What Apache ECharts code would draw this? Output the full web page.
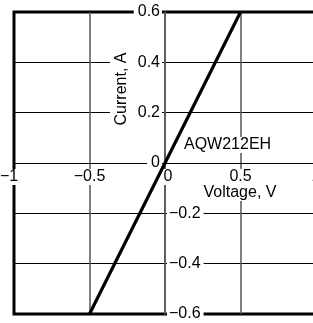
<!DOCTYPE html>
<html>
<head>
<meta charset="utf-8">
<script src="https://cdn.jsdelivr.net/npm/echarts@6/dist/echarts.min.js"></script>
<style>
html,body{margin:0;padding:0;background:#fff;}
#c{width:313px;height:323px;}
</style>
</head>
<body>
<div id="c"></div>
<script>
const xTicks = [-1, -0.5, 0, 0.5, 1];
const yTicks = [-0.6, -0.4, -0.2, 0, 0.2, 0.4, 0.6];
const voltage = [-0.5, 0.5];
const current = [-0.6, 0.6];
const xName = 'Voltage, V';
const yName = 'Current, A';
const seriesLabel = 'AQW212EH';

const FONT = '"Liberation Sans", Arial, Helvetica, sans-serif';
const FS = 16;
const xMin = xTicks[0], xMax = xTicks[xTicks.length - 1];
const yMin = yTicks[0], yMax = yTicks[yTicks.length - 1];

function fmt(v) {
  const s = String(Math.round(v * 10) / 10);
  return s.replace('-', '\u2212');
}

const chart = echarts.init(document.getElementById('c'), null, {renderer: 'canvas'});

const labelBase = {
  color: '#000', fontFamily: FONT, fontSize: FS,
  backgroundColor: '#fff'
};

const option = {
  animation: false,
  backgroundColor: '#fff',
  grid: {
    left: 14, top: 12, right: -3, bottom: 9,
    containLabel: false, outerBoundsMode: 'none',
    show: true, borderColor: '#000', borderWidth: 3, backgroundColor: 'transparent'
  },
  xAxis: {
    type: 'value', min: xMin, max: xMax, interval: 0.5,
    position: 'bottom', offset: 0,
    axisLine: {onZero: false, lineStyle: {color: '#000', width: 1.2}},
    axisTick: {show: false},
    splitLine: {show: true, showMinLine: false, showMaxLine: false, lineStyle: {color: '#555', width: 1.5}},
    axisLabel: Object.assign({}, labelBase, {
      margin: 6, padding: [0, 2],
      showMinLabel: true, showMaxLabel: true,
      formatter: function (v) {
        if (v === 0) return '{z|0}';
        if (v === -1) return '{m|' + fmt(v) + '}';
        return fmt(v);
      },
      rich: {
        z: {fontFamily: FONT, fontSize: FS, color: '#000', padding: [0, 0, 0, 6]},
        m: {fontFamily: FONT, fontSize: FS, color: '#000', padding: [0, 10, 0, 0]}
      }
    })
  },
  yAxis: [
    {
      type: 'value', min: yMin, max: yMax, interval: 0.2,
      position: 'left', offset: 0,
      axisLine: {onZero: false, lineStyle: {color: '#555', width: 1.5}},
      axisTick: {show: false},
      splitLine: {show: true, showMinLine: false, showMaxLine: false, lineStyle: {color: '#000', width: 1}},
      axisLabel: Object.assign({}, labelBase, {
        margin: 3, padding: [0, 2, 0, 4],
        showMinLabel: true, showMaxLabel: true,
        formatter: function (v) { return v >= 0 ? fmt(v) : ''; }
      })
    },
    {
      type: 'value', min: yMin, max: yMax, interval: 0.2,
      position: 'right', offset: 0, z: 2,
      axisLine: {show: false, onZero: false},
      axisTick: {show: false},
      splitLine: {show: false},
      axisLabel: Object.assign({}, labelBase, {
        margin: 2, padding: [0, 3, 0, 2],
        showMinLabel: true, showMaxLabel: true,
        formatter: function (v) { return v < 0 ? fmt(v) : ''; }
      })
    }
  ],
  series: [{
    type: 'line',
    data: voltage.map((v, i) => [v, current[i]]),
    showSymbol: false,
    symbol: 'none',
    lineStyle: {color: '#000', width: 3.2},
    z: 1
  }],
  graphic: [
    {
      type: 'text', z: 100, x: 122, y: 89, rotation: Math.PI / 2,
      style: {text: yName, fontFamily: FONT, fontSize: FS, fill: '#000',
        align: 'center', verticalAlign: 'middle', backgroundColor: '#fff', padding: [4, 3]}
    },
    {
      type: 'text', z: 100, x: 240, y: 193,
      style: {text: xName, fontFamily: FONT, fontSize: FS, fill: '#000',
        align: 'center', verticalAlign: 'middle', backgroundColor: '#fff', padding: [0, 2]}
    },
    {
      type: 'text', z: 100, x: 183, y: 145,
      style: {text: seriesLabel, fontFamily: FONT, fontSize: FS, fill: '#000',
        align: 'left', verticalAlign: 'middle', backgroundColor: '#fff', padding: [0, 1]}
    }
  ]
};
chart.setOption(option);

// Move the axes (with their labels) to cross at the origin, using the library's own scales.
const zeroY = chart.convertToPixel({yAxisIndex: 0}, 0);
const bottomY = chart.convertToPixel({yAxisIndex: 0}, yMin);
const zeroX = chart.convertToPixel({xAxisIndex: 0}, 0);
const leftX = chart.convertToPixel({xAxisIndex: 0}, xMin);
const rightX = chart.convertToPixel({xAxisIndex: 0}, xMax);
chart.setOption({
  xAxis: {offset: zeroY - bottomY},
  yAxis: [{offset: leftX - zeroX}, {offset: zeroX - rightX}]
});
</script>
</body>
</html>
